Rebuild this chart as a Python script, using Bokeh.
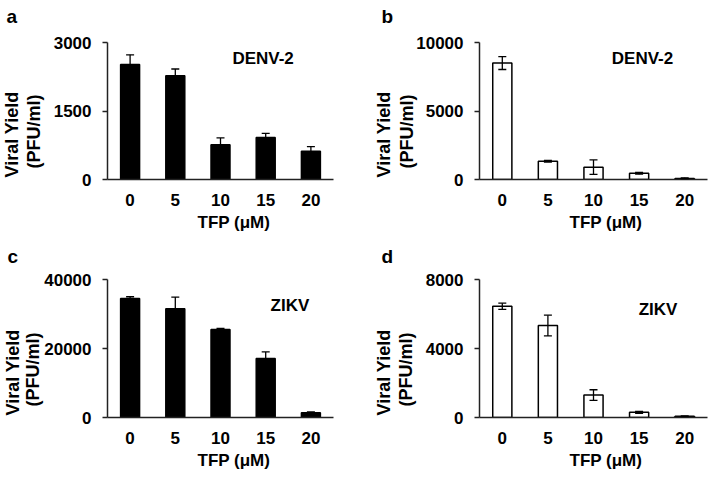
import math
from bokeh.plotting import figure
from bokeh.models import (Range1d, FixedTicker, NumeralTickFormatter, Whisker,
                          TeeHead, Label, Title, ColumnDataSource)
from bokeh.layouts import gridplot
from bokeh.embed import file_html
from bokeh.resources import INLINE

# ---------------- data ----------------
tfp_labels = ["0", "5", "10", "15", "20"]

a_mean = [2520, 2270, 760, 920, 620]
a_err = [210, 150, 150, 90, 100]
b_mean = [8500, 1330, 900, 450, 80]
b_err = [470, 60, 530, 60, 40]
c_mean = [34500, 31500, 25500, 17100, 1400]
c_err = [500, 3400, 300, 1900, 200]
d_mean = [6450, 5330, 1300, 300, 70]
d_err = [180, 600, 310, 60, 20]

a_ticks = [0, 1500, 3000]
b_ticks = [0, 5000, 10000]
c_ticks = [0, 20000, 40000]
d_ticks = [0, 4000, 8000]

x_title = "TFP (μM)"
y_title_1 = "Viral Yield"
y_title_2 = "(PFU/ml)"

FONT = "Liberation Sans"


def bold_title(text, size, **kw):
    return Title(text=text, text_font=FONT, text_font_style="bold",
                 text_font_size=size, text_color="black", **kw)


def panel(letter, virus, means, errs, ticks, fill, fig_box, frame,
          virus_pos, letter_x, spacer_standoff, s_pfu, s_viral):
    gx0, gy0, gx1, gy1 = fig_box
    fl, ft, fr, fb = frame
    n = len(tfp_labels)
    ymax = ticks[-1]
    p = figure(width=gx1 - gx0, height=gy1 - gy0, output_backend="svg",
               toolbar_location=None, tools="",
               x_range=Range1d(-0.5, n - 0.5), y_range=Range1d(0, ymax),
               min_border_left=fl - gx0, min_border_right=gx1 - fr,
               min_border_top=ft - gy0, min_border_bottom=gy1 - fb)
    p.xgrid.visible = False
    p.ygrid.visible = False
    p.outline_line_color = None
    p.background_fill_color = "white"
    p.border_fill_color = "white"
    p.title.text = ""

    # x axis
    xa = p.xaxis[0]
    xa.ticker = FixedTicker(ticks=list(range(n)))
    xa.major_label_overrides = {i: lab for i, lab in enumerate(tfp_labels)}
    xa.major_tick_line_color = None
    xa.minor_tick_line_color = None
    xa.major_tick_out = 0
    xa.major_tick_in = 0
    xa.major_label_standoff = 14
    xa.axis_line_width = 1.5
    xa.axis_line_color = "#222222"
    xa.major_label_text_font = FONT
    xa.major_label_text_font_style = "bold"
    xa.major_label_text_font_size = "17px"
    xa.major_label_text_color = "black"

    # y axis
    ya = p.yaxis[0]
    ya.ticker = FixedTicker(ticks=ticks)
    ya.formatter = NumeralTickFormatter(format="0")
    ya.minor_tick_line_color = None
    ya.major_tick_out = 5
    ya.major_tick_in = 0
    ya.major_tick_line_width = 1.5
    ya.major_tick_line_color = "#222222"
    ya.major_label_standoff = 11
    ya.axis_line_width = 1.5
    ya.axis_line_color = "#222222"
    ya.major_label_text_font = FONT
    ya.major_label_text_font_style = "bold"
    ya.major_label_text_font_size = "17px"
    ya.major_label_text_color = "black"

    src = ColumnDataSource(dict(
        x=list(range(n)), top=means,
        upper=[m + e for m, e in zip(means, errs)],
        lower=[m - e for m, e in zip(means, errs)],
    ))
    p.vbar(x="x", top="top", bottom=0, width=0.42, source=src,
           fill_color=fill, line_color="black", line_width=1.5)
    p.add_layout(Whisker(source=src, base="x", upper="upper", lower="lower",
                         level="overlay", line_color="black", line_width=1.3,
                         upper_head=TeeHead(size=8, line_width=1.3, line_color="black"),
                         lower_head=TeeHead(size=8, line_width=1.3, line_color="black")))

    # virus name inside the frame
    vx = -0.5 + (virus_pos[0] - fl) / (fr - fl) * n
    vy = (fb - virus_pos[1]) / (fb - ft) * ymax
    p.add_layout(Label(x=vx, y=vy, text=virus, text_font=FONT,
                       text_font_style="bold", text_font_size="17px",
                       text_color="black", text_align="center",
                       text_baseline="alphabetic"))

    # tiny white spacer next to the frame, then the panel letter above it
    p.add_layout(Title(text=".", text_font_size="2px", text_color="white",
                       align="left", offset=letter_x - fl,
                       standoff=spacer_standoff), "above")
    p.add_layout(bold_title(letter, "19px", align="left", vertical_align="top",
                            offset=letter_x - fl, standoff=0), "above")

    # x axis title
    p.add_layout(bold_title(x_title, "17px", align="left", vertical_align="bottom",
                            offset=90, standoff=4), "below")
    # y axis titles (two lines)
    p.add_layout(bold_title(y_title_2, "18px", align="left", vertical_align="middle",
                            offset=11, standoff=s_pfu), "left")
    p.add_layout(bold_title(y_title_1, "18px", align="left", vertical_align="middle",
                            offset=2, standoff=s_viral), "left")
    return p


pa = panel("a", "DENV-2", a_mean, a_err, a_ticks, "black",
           (0, 0, 355, 241), (105, 42, 333, 179), (262, 58), 4, 11, 11, -10)
pb = panel("b", "DENV-2", b_mean, b_err, b_ticks, "white",
           (355, 0, 709, 241), (479, 42, 707, 179), (642, 58), 381, 11, -9, 11)
pc = panel("c", "ZIKV", c_mean, c_err, c_ticks, "black",
           (0, 241, 355, 481), (105, 279, 333, 417), (289, 305), 5, 8, -5, 2)
pd = panel("d", "ZIKV", d_mean, d_err, d_ticks, "white",
           (355, 241, 709, 481), (479, 279, 707, 417), (657.5, 309), 381, 8, 12, -12)

grid = gridplot([[pa, pb], [pc, pd]], toolbar_location=None)

open("out.html", "w").write(file_html(grid, INLINE))
